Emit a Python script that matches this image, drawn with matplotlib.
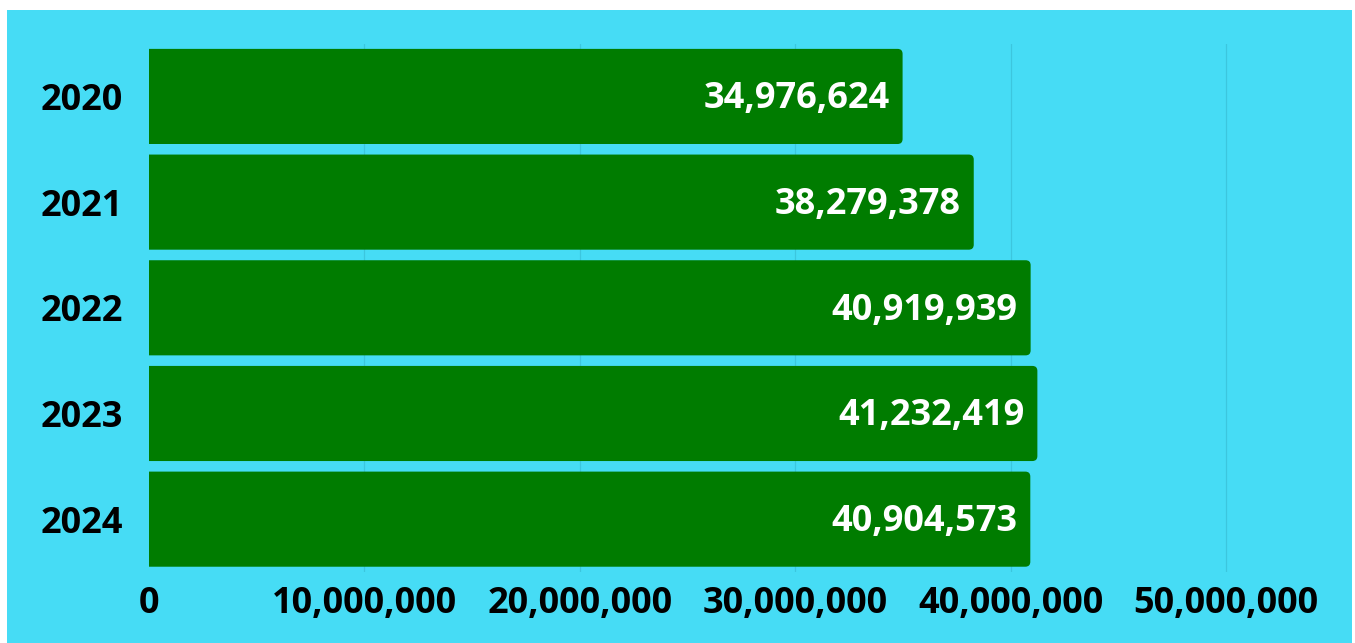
import matplotlib
matplotlib.use("Agg")
import matplotlib.pyplot as plt
from matplotlib.patches import Rectangle, FancyBboxPatch
from matplotlib.ticker import FuncFormatter

years = ["2020", "2021", "2022", "2023", "2024"]
values = [34976624, 38279378, 40919939, 41232419, 40904573]
xticks = [0, 10000000, 20000000, 30000000, 40000000, 50000000]

W, H = 1355, 643
fig = plt.figure(figsize=(W / 100, H / 100), dpi=100, facecolor="white")
# cyan panel
fig.patches.append(Rectangle((7 / W, 0), (1352 - 7) / W, (H - 10) / H,
                             transform=fig.transFigure, facecolor="#46DCF5",
                             edgecolor="none", zorder=-10))

ax = fig.add_axes([149 / W, 1 - 572 / H, (1334 - 149) / W, (572 - 43.6) / H])
ax.set_zorder(5)
ax.set_facecolor("none")
ax.set_xlim(0, 55000000)
ax.set_ylim(len(years) - 0.5, -0.5)

FS = 26
font = dict(family="Open Sans", weight="bold", size=FS)

# grid
for t in xticks[1:]:
    ax.axvline(t, color="#3CC6DE", lw=0.9, zorder=0)

px_x = 55000000 / (1334 - 149)
px_y = 5 / (572 - 43.6)
R = 5 * px_x
bh = 0.9
for i, v in enumerate(values):
    p = FancyBboxPatch((-3 * R, i - bh / 2), v + 3 * R, bh,
                       boxstyle=f"round,pad=0,rounding_size={R}",
                       mutation_aspect=px_y / px_x,
                       facecolor="#007C00", edgecolor="none", zorder=2)
    ax.add_patch(p)
    ax.annotate(f"{v:,}", xy=(v, i), xytext=(-13, -3), textcoords="offset pixels",
                ha="right", va="center", color="white", zorder=3, **font)

ax.set_yticks(range(len(years)))
ax.set_yticklabels(years)
ax.set_xticks(xticks)
ax.xaxis.set_major_formatter(FuncFormatter(lambda x, p: f"{int(x):,}"))
ax.tick_params(axis="both", length=0)
ax.tick_params(axis="y", pad=19)
ax.tick_params(axis="x", pad=10)
for lab in ax.get_xticklabels() + ax.get_yticklabels():
    lab.set_fontfamily("Open Sans")
    lab.set_fontweight("bold")
    lab.set_fontsize(FS)
    lab.set_color("black")
for s in ax.spines.values():
    s.set_visible(False)

fig.savefig("out.png", dpi=100, facecolor="white")
